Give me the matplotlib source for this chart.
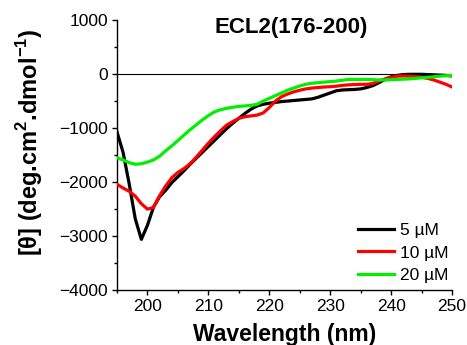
import matplotlib
matplotlib.use("Agg")
import matplotlib.pyplot as plt
from matplotlib.ticker import MultipleLocator

plt.rcParams['font.family'] = ['Liberation Sans', 'DejaVu Sans']
plt.rcParams['mathtext.fontset'] = 'custom'
plt.rcParams['mathtext.rm'] = 'Liberation Sans:bold'
plt.rcParams['mathtext.bf'] = 'Liberation Sans:bold'

wavelength = list(range(195, 251))

ellip_5uM = [
    -1070, -1450, -2030, -2680, -3060, -2800, -2460, -2270, -2150, -2010,
    -1900, -1790, -1670, -1560, -1450, -1340, -1230, -1120, -1010, -910,
    -820, -730, -650, -590, -560, -540, -525, -510, -500, -490,
    -480, -470, -460, -430, -390, -350, -310, -295, -290, -285,
    -275, -250, -215, -160, -100, -50, -25, -10, -5, -5,
    -5, -10, -15, -20, -25, -35,
]

ellip_10uM = [
    -2040, -2110, -2170, -2260, -2400, -2500, -2470, -2250, -2070, -1920,
    -1820, -1750, -1660, -1540, -1410, -1280, -1160, -1050, -945, -880,
    -820, -790, -775, -760, -720, -620, -500, -420, -370, -330,
    -300, -275, -260, -250, -240, -235, -225, -210, -200, -195,
    -190, -190, -175, -130, -90, -60, -40, -35, -40, -50,
    -60, -80, -110, -150, -190, -240,
]

ellip_20uM = [
    -1550, -1590, -1640, -1670, -1660, -1630, -1590, -1520, -1420, -1330,
    -1230, -1130, -1030, -940, -850, -770, -700, -660, -635, -615,
    -600, -590, -580, -560, -500, -450, -400, -350, -300, -260,
    -220, -190, -170, -160, -150, -140, -130, -115, -100, -100,
    -100, -100, -105, -110, -110, -105, -100, -95, -90, -80,
    -70, -60, -50, -40, -30, -25,
]

series = [
    ("5 \u00b5M", ellip_5uM, "#000000"),
    ("10 \u00b5M", ellip_10uM, "#ff0000"),
    ("20 \u00b5M", ellip_20uM, "#00f000"),
]

fig = plt.figure(figsize=(4.67, 3.45), dpi=100)
ax = fig.add_axes([0.2505, 0.159, 0.7175, 0.783])

ax.axhline(0, color="black", lw=0.8, zorder=1)
for label, vals, color in series:
    ax.plot(wavelength, vals, color=color, lw=2.3, label=label, zorder=3)

ax.set_xlim(195, 250)
ax.set_ylim(-4000, 1000)
ax.xaxis.set_major_locator(MultipleLocator(10))
ax.xaxis.set_minor_locator(MultipleLocator(5))
ax.yaxis.set_major_locator(MultipleLocator(1000))
ax.yaxis.set_minor_locator(MultipleLocator(500))
ax.tick_params(which="major", direction="out", length=3.5, width=1, labelsize=12.5, pad=3)
ax.tick_params(which="minor", direction="out", length=2.2, width=1)
for side in ("top", "right"):
    ax.spines[side].set_visible(False)
for side in ("left", "bottom"):
    ax.spines[side].set_linewidth(1)

ax.text(0.52, 1.01, "ECL2(176-200)", transform=ax.transAxes, ha="center", va="top",
        fontsize=16, fontweight="bold")

ax.set_xlabel("Wavelength (nm)", fontsize=16.5, fontweight="bold", labelpad=6)
ax.set_ylabel(r"[θ] (deg.cm$^{\mathbf{2}}$.dmol$^{\mathbf{-1}}$)", fontsize=17,
              fontweight="bold")
ax.yaxis.set_label_coords(-0.215, 0.548)

ax.legend(loc="lower right", frameon=False, fontsize=12.5, handlelength=2.1,
          handletextpad=0.3, labelspacing=0.4, bbox_to_anchor=(1.035, -0.03))

fig.savefig("out.png", dpi=100)
